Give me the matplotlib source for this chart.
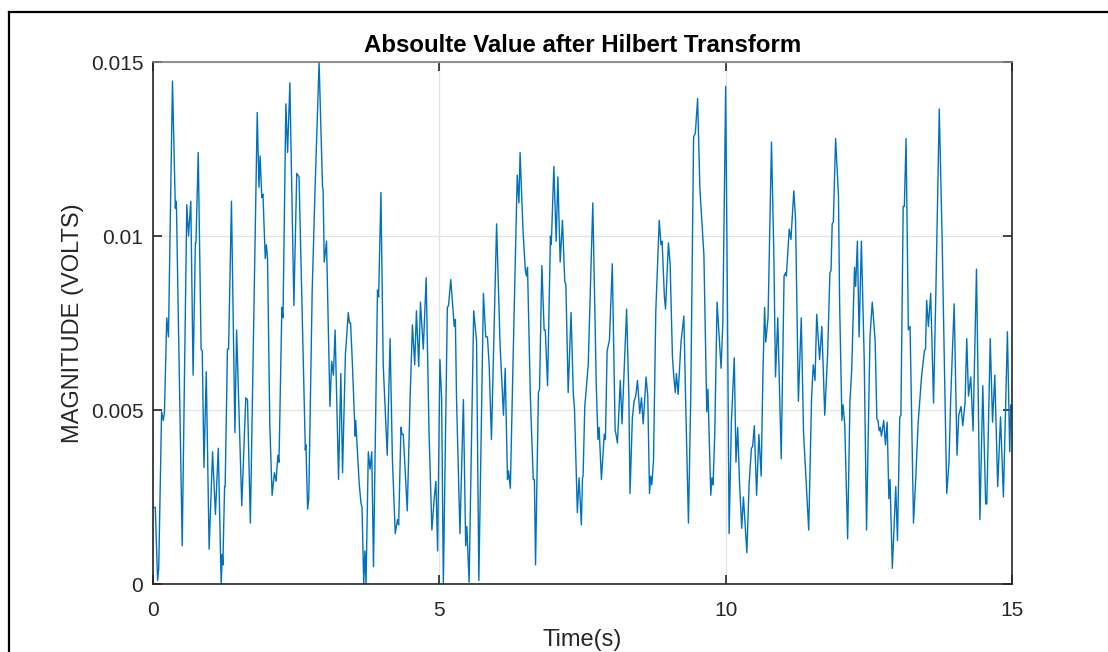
import matplotlib
matplotlib.use("Agg")
import matplotlib.pyplot as plt
from matplotlib.lines import Line2D

# Values (time in seconds, magnitude in volts)
time_s = [
    0.00, 0.04, 0.08, 0.10, 0.15, 0.18, 0.20, 0.24, 0.27, 0.34, 0.39, 0.40, 0.41, 0.51, 0.59, 0.62, 0.66, 0.70, 0.74, 0.75,
    0.79, 0.84, 0.86, 0.89, 0.93, 0.98, 1.04, 1.09, 1.14, 1.19, 1.21, 1.22, 1.25, 1.26, 1.30, 1.32, 1.37, 1.43, 1.46, 1.55,
    1.62, 1.65, 1.70, 1.82, 1.85, 1.87, 1.90, 1.92, 1.96, 1.98, 2.00, 2.04, 2.08, 2.12, 2.15, 2.18, 2.20, 2.25, 2.27, 2.32,
    2.35, 2.39, 2.46, 2.51, 2.55, 2.66, 2.67, 2.70, 2.72, 2.78, 2.83, 2.90, 2.96, 2.97, 2.99, 3.03, 3.09, 3.12, 3.15, 3.18,
    3.24, 3.28, 3.31, 3.36, 3.41, 3.43, 3.45, 3.48, 3.53, 3.54, 3.60, 3.63, 3.65, 3.68, 3.70, 3.72, 3.76, 3.79, 3.82, 3.85,
    3.92, 3.94, 3.98, 4.02, 4.09, 4.14, 4.18, 4.23, 4.27, 4.29, 4.33, 4.35, 4.37, 4.44, 4.49, 4.53, 4.57, 4.60, 4.64, 4.67,
    4.72, 4.77, 4.82, 4.87, 4.91, 4.94, 4.97, 5.01, 5.04, 5.07, 5.14, 5.16, 5.20, 5.26, 5.28, 5.30, 5.36, 5.42, 5.46, 5.48,
    5.52, 5.60, 5.65, 5.69, 5.77, 5.81, 5.84, 5.87, 5.91, 6.00, 6.06, 6.12, 6.15, 6.19, 6.21, 6.24, 6.29, 6.36, 6.39, 6.41,
    6.46, 6.50, 6.52, 6.54, 6.59, 6.64, 6.66, 6.68, 6.73, 6.75, 6.79, 6.83, 6.85, 6.89, 6.94, 6.95, 6.96, 7.00, 7.04, 7.07,
    7.11, 7.15, 7.19, 7.21, 7.25, 7.30, 7.34, 7.36, 7.41, 7.44, 7.48, 7.50, 7.51, 7.54, 7.60, 7.68, 7.74, 7.77, 7.79, 7.83,
    7.88, 7.90, 7.93, 7.97, 8.02, 8.07, 8.08, 8.11, 8.16, 8.19, 8.22, 8.27, 8.31, 8.33, 8.37, 8.40, 8.43, 8.46, 8.50, 8.53,
    8.56, 8.61, 8.64, 8.67, 8.69, 8.71, 8.74, 8.78, 8.84, 8.87, 8.89, 8.93, 8.95, 9.00, 9.03, 9.07, 9.09, 9.12, 9.14, 9.17,
    9.22, 9.27, 9.30, 9.35, 9.39, 9.44, 9.47, 9.51, 9.55, 9.62, 9.67, 9.69, 9.74, 9.76, 9.78, 9.81, 9.85, 9.88, 9.92, 9.95,
    10.00, 10.03, 10.06, 10.10, 10.15, 10.18, 10.21, 10.24, 10.28, 10.31, 10.37, 10.41, 10.45, 10.47, 10.50, 10.54, 10.58,
    10.62, 10.65, 10.68, 10.70, 10.74, 10.77, 10.80, 10.84, 10.87, 10.91, 10.97, 11.02, 11.05, 11.06, 11.11, 11.14, 11.19,
    11.22, 11.27, 11.32, 11.36, 11.39, 11.45, 11.50, 11.53, 11.56, 11.59, 11.64, 11.68, 11.73, 11.78, 11.82, 11.84, 11.86,
    11.88, 11.92, 11.97, 11.99, 12.03, 12.05, 12.08, 12.13, 12.17, 12.20, 12.25, 12.27, 12.30, 12.33, 12.37, 12.42, 12.46,
    12.52, 12.56, 12.61, 12.64, 12.66, 12.68, 12.70, 12.72, 12.76, 12.79, 12.82, 12.85, 12.87, 12.91, 12.97, 13.00, 13.04,
    13.06, 13.10, 13.12, 13.15, 13.19, 13.22, 13.28, 13.32, 13.36, 13.42, 13.47, 13.49, 13.51, 13.54, 13.58, 13.63, 13.67,
    13.73, 13.78, 13.82, 13.86, 13.90, 13.93, 13.99, 14.04, 14.07, 14.11, 14.14, 14.18, 14.21, 14.24, 14.28, 14.32, 14.38,
    14.44, 14.49, 14.54, 14.56, 14.62, 14.66, 14.70, 14.75, 14.80, 14.85, 14.92, 14.96, 14.98, 15.00,
]

magnitude_v = [
    0.00220, 0.00220, 0.00010, 0.00045, 0.00495, 0.00470, 0.00495, 0.00765, 0.00710, 0.01445, 0.01080, 0.01100, 0.01080,
    0.00110, 0.01090, 0.01000, 0.01100, 0.00600, 0.00980, 0.00980, 0.01240, 0.00675, 0.00670, 0.00335, 0.00610, 0.00100,
    0.00380, 0.00200, 0.00390, 0.00000, 0.00085, 0.00055, 0.00280, 0.00280, 0.00675, 0.00675, 0.01100, 0.00435, 0.00730,
    0.00225, 0.00535, 0.00530, 0.00175, 0.01355, 0.01140, 0.01230, 0.01110, 0.01120, 0.00935, 0.00975, 0.00935, 0.00455,
    0.00255, 0.00320, 0.00295, 0.00370, 0.00350, 0.00795, 0.00765, 0.01380, 0.01240, 0.01440, 0.00800, 0.01180, 0.01170,
    0.00385, 0.00400, 0.00215, 0.00245, 0.00845, 0.01135, 0.01500, 0.01140, 0.01135, 0.00925, 0.00985, 0.00510, 0.00640,
    0.00600, 0.00730, 0.00300, 0.00605, 0.00320, 0.00660, 0.00780, 0.00750, 0.00750, 0.00640, 0.00425, 0.00470, 0.00290,
    0.00235, 0.00220, 0.00000, 0.00095, 0.00000, 0.00380, 0.00330, 0.00380, 0.00050, 0.00845, 0.00825, 0.01125, 0.00630,
    0.00370, 0.00705, 0.00360, 0.00145, 0.00185, 0.00170, 0.00450, 0.00430, 0.00430, 0.00210, 0.00535, 0.00745, 0.00630,
    0.00785, 0.00625, 0.00810, 0.00675, 0.00880, 0.00435, 0.00155, 0.00245, 0.00295, 0.00095, 0.00645, 0.00535, 0.00000,
    0.00795, 0.00800, 0.00875, 0.00740, 0.00760, 0.00535, 0.00145, 0.00530, 0.00110, 0.00165, 0.00005, 0.00785, 0.00700,
    0.00010, 0.00835, 0.00710, 0.00710, 0.00630, 0.00415, 0.01035, 0.00690, 0.00485, 0.00620, 0.00300, 0.00325, 0.00275,
    0.00660, 0.01175, 0.01095, 0.01240, 0.01020, 0.00905, 0.00885, 0.00910, 0.00535, 0.00300, 0.00300, 0.00055, 0.00550,
    0.00560, 0.00915, 0.00730, 0.00730, 0.00570, 0.01000, 0.00975, 0.01000, 0.01200, 0.00985, 0.01170, 0.00925, 0.01045,
    0.00870, 0.00860, 0.00550, 0.00780, 0.00545, 0.00505, 0.00205, 0.00305, 0.00170, 0.00305, 0.00310, 0.00510, 0.00630,
    0.01095, 0.00575, 0.00415, 0.00450, 0.00300, 0.00430, 0.00415, 0.00670, 0.00700, 0.00920, 0.00440, 0.00435, 0.00405,
    0.00585, 0.00460, 0.00585, 0.00790, 0.00535, 0.00260, 0.00475, 0.00525, 0.00540, 0.00585, 0.00490, 0.00535, 0.00460,
    0.00595, 0.00540, 0.00260, 0.00310, 0.00285, 0.00355, 0.00785, 0.01045, 0.00975, 0.00985, 0.00825, 0.00790, 0.00980,
    0.00920, 0.00655, 0.00605, 0.00550, 0.00605, 0.00545, 0.00695, 0.00770, 0.00535, 0.00175, 0.00535, 0.01285, 0.01295,
    0.01395, 0.01135, 0.00945, 0.00495, 0.00560, 0.00255, 0.00305, 0.00285, 0.00435, 0.00810, 0.00730, 0.00620, 0.00750,
    0.01430, 0.00825, 0.00145, 0.00465, 0.00650, 0.00350, 0.00450, 0.00300, 0.00160, 0.00250, 0.00090, 0.00290, 0.00390,
    0.00395, 0.00455, 0.00255, 0.00430, 0.00310, 0.00600, 0.00795, 0.00695, 0.00765, 0.01020, 0.01270, 0.00960, 0.00595,
    0.00765, 0.00360, 0.00885, 0.00895, 0.00885, 0.01020, 0.00990, 0.01130, 0.01050, 0.00525, 0.00765, 0.00435, 0.00340,
    0.00155, 0.00535, 0.00630, 0.00585, 0.00775, 0.00645, 0.00740, 0.00485, 0.00660, 0.00895, 0.00900, 0.01035, 0.01040,
    0.01280, 0.01115, 0.00805, 0.00470, 0.00515, 0.00455, 0.00130, 0.00525, 0.00610, 0.00910, 0.00855, 0.00985, 0.00710,
    0.00985, 0.00640, 0.00155, 0.00710, 0.00810, 0.00700, 0.00475, 0.00470, 0.00440, 0.00450, 0.00425, 0.00470, 0.00400,
    0.00465, 0.00245, 0.00300, 0.00045, 0.00280, 0.00125, 0.00480, 0.00485, 0.01085, 0.01085, 0.01280, 0.00730, 0.00740,
    0.00175, 0.00305, 0.00460, 0.00595, 0.00670, 0.00675, 0.00815, 0.00740, 0.00835, 0.00520, 0.00835, 0.01365, 0.00990,
    0.00630, 0.00260, 0.00350, 0.00535, 0.00805, 0.00370, 0.00485, 0.00510, 0.00455, 0.00520, 0.00705, 0.00540, 0.00595,
    0.00440, 0.00905, 0.00185, 0.00570, 0.00230, 0.00230, 0.00705, 0.00465, 0.00600, 0.00280, 0.00480, 0.00250, 0.00725,
    0.00380, 0.00515, 0.00500,
]

x_ticks = [0, 5, 10, 15]
y_ticks = [0, 0.005, 0.01, 0.015]
y_tick_labels = ["0", "0.005", "0.01", "0.015"]

plt.rcParams['font.family'] = ['Liberation Sans', 'DejaVu Sans']

fig = plt.figure(figsize=(11.08, 6.52), dpi=100)
ax = fig.add_axes([153 / 1108, 1 - 584 / 652, (1012 - 153) / 1108, (584 - 62) / 652])

ax.plot(time_s, magnitude_v, color='#0072BD', linewidth=1.0)

ax.set_xlim(0, 15)
ax.set_ylim(0, 0.015)
ax.set_xticks(x_ticks)
ax.set_xticklabels([str(t) for t in x_ticks])
ax.set_yticks(y_ticks)
ax.set_yticklabels(y_tick_labels)

# MATLAB-like box with inward ticks on every side
ax.tick_params(direction='in', length=6.5, width=1.2, colors='#262626', labelsize=15,
               top=True, right=True, pad=7)
ax.tick_params(axis='x', pad=12)
for side in ['left', 'bottom', 'right']:
    ax.spines[side].set_color('#262626')
    ax.spines[side].set_linewidth(1.2)
ax.spines['top'].set_color('#7f7f7f')
ax.spines['top'].set_linewidth(1.2)

ax.grid(True, color='#e3e3e3', linewidth=0.9)
ax.set_axisbelow(True)

ax.set_title("Absoulte Value after Hilbert Transform", fontsize=17.3, fontweight='bold', pad=7.5)
ax.set_xlabel("Time(s)", fontsize=17, color='#262626', labelpad=7)
ax.set_ylabel("MAGNITUDE (VOLTS)", fontsize=17, color='#262626', labelpad=5)

# outer frame of the screenshot (left and top edges)
fig.add_artist(Line2D([9 / 1108, 9 / 1108], [0, 1 - 12 / 652], color='black', linewidth=1.6))
fig.add_artist(Line2D([9 / 1108, 1], [1 - 12 / 652, 1 - 12 / 652], color='black', linewidth=1.6))

fig.savefig("out.png", dpi=100)
